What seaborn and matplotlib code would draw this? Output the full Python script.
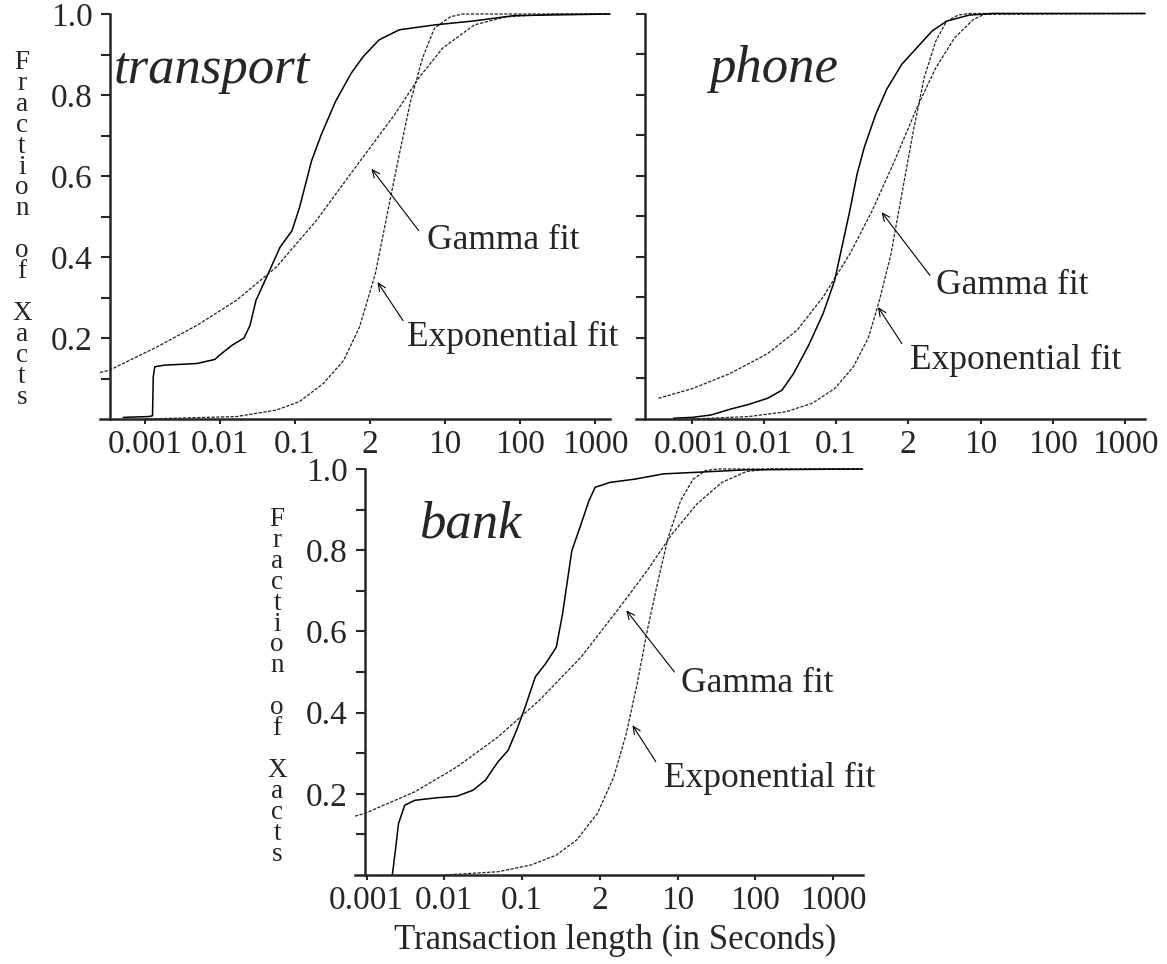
import numpy as np
import pandas as pd
import matplotlib
matplotlib.use("Agg")
import matplotlib.pyplot as plt
from matplotlib.ticker import NullLocator
import seaborn as sns

sns.set_style("ticks")
plt.rcParams['font.family'] = ['Liberation Serif', 'DejaVu Serif']

# ---------------- data (x as log10 of seconds, y as fraction) ----------------
x_tick_values = [0.001, 0.01, 0.1, 1, 10, 100, 1000]
x_tick_labels = ["0.001", "0.01", "0.1", "2", "10", "100", "1000"]
y_tick_values = [0.1, 0.2, 0.3, 0.4, 0.5, 0.6, 0.7, 0.8, 0.9, 1.0]
y_tick_labels = ["", "0.2", "", "0.4", "", "0.6", "", "0.8", "", "1.0"]

panel_names = ["transport", "phone", "bank"]
fit_labels = ["Gamma fit", "Exponential fit"]
x_axis_title = "Transaction length (in Seconds)"
y_axis_title = ["F", "r", "a", "c", "t", "i", "o", "n", "", "o", "f", "", "X", "a", "c", "t", "s"]

# transport
transport_emp_logt = [-3.29, -2.95, -2.90, -2.89, -2.87, -2.74, -2.31, -2.07, -1.99, -1.84, -1.68, -1.60,
                      -1.52, -1.36, -1.20, -1.04, -0.94, -0.78, -0.65, -0.46, -0.25, -0.09, 0.12, 0.39,
                      0.86, 1.39, 1.92, 3.20]
transport_emp_frac = [0.004, 0.006, 0.008, 0.104, 0.129, 0.133, 0.137, 0.147, 0.160, 0.182, 0.200, 0.231,
                      0.293, 0.358, 0.424, 0.465, 0.522, 0.637, 0.702, 0.784, 0.854, 0.895, 0.936, 0.961,
                      0.973, 0.983, 0.996, 1.000]
transport_gam_logt = [-3.60, -3.48, -2.84, -2.31, -1.78, -1.25, -0.72, -0.20, 0.33, 0.65, 0.97, 1.39, 1.81, 2.45, 3.20]
transport_gam_frac = [0.115, 0.120, 0.178, 0.231, 0.293, 0.375, 0.489, 0.620, 0.752, 0.842, 0.916, 0.973, 0.993, 1.000, 1.000]
transport_exp_logt = [-3.00, -1.78, -1.25, -0.94, -0.62, -0.35, -0.14, 0.07, 0.23, 0.39, 0.54, 0.70, 0.86, 1.07, 1.23, 3.20]
transport_exp_frac = [0.000, 0.006, 0.022, 0.043, 0.088, 0.145, 0.227, 0.358, 0.506, 0.653, 0.784, 0.891, 0.965, 0.993, 1.000, 1.000]

# phone
phone_emp_logt = [-3.25, -2.99, -2.73, -2.47, -2.21, -1.95, -1.75, -1.59, -1.38, -1.18, -1.02, -0.92, -0.81,
                  -0.71, -0.61, -0.45, -0.30, -0.09, 0.12, 0.33, 0.53, 0.84, 1.16, 3.28]
phone_emp_frac = [0.002, 0.004, 0.010, 0.024, 0.036, 0.051, 0.071, 0.112, 0.182, 0.260, 0.342, 0.424, 0.514,
                  0.604, 0.670, 0.752, 0.813, 0.875, 0.916, 0.957, 0.981, 0.996, 1.000, 1.000]
phone_gam_logt = [-3.46, -2.99, -2.47, -1.95, -1.54, -1.18, -0.81, -0.50, -0.19, 0.12, 0.38, 0.64, 0.90, 1.05, 3.28]
phone_gam_frac = [0.051, 0.075, 0.112, 0.161, 0.219, 0.301, 0.407, 0.514, 0.637, 0.768, 0.866, 0.940, 0.985, 0.998, 1.000]
phone_exp_logt = [-2.99, -2.21, -1.69, -1.33, -1.02, -0.76, -0.55, -0.40, -0.24, -0.09, 0.07, 0.22, 0.38, 0.53, 0.69, 0.84, 3.28]
phone_exp_frac = [0.000, 0.006, 0.018, 0.039, 0.075, 0.129, 0.202, 0.293, 0.407, 0.555, 0.711, 0.842, 0.932, 0.981, 0.996, 1.000, 1.000]

# bank
bank_emp_logt = [-2.67, -2.63, -2.59, -2.51, -2.38, -2.11, -1.84, -1.63, -1.47, -1.31, -1.18, -1.07, -0.96,
                 -0.83, -0.70, -0.56, -0.48, -0.41, -0.36, -0.24, -0.14, -0.06, 0.13, 0.45, 0.82, 1.36, 1.89, 3.38]
bank_emp_frac = [0.000, 0.061, 0.127, 0.172, 0.184, 0.190, 0.194, 0.209, 0.234, 0.279, 0.307, 0.357, 0.414,
                 0.488, 0.520, 0.561, 0.643, 0.734, 0.799, 0.865, 0.922, 0.955, 0.967, 0.975, 0.988, 0.993, 0.998, 1.000]
bank_gam_logt = [-3.15, -3.02, -2.38, -1.84, -1.31, -0.78, -0.24, 0.29, 0.61, 0.93, 1.25, 1.57, 1.89, 2.21, 3.38]
bank_gam_frac = [0.145, 0.152, 0.205, 0.266, 0.340, 0.430, 0.537, 0.668, 0.750, 0.840, 0.914, 0.967, 0.994, 1.000, 1.000]
bank_exp_logt = [-2.00, -1.31, -0.88, -0.56, -0.30, -0.03, 0.18, 0.34, 0.48, 0.61, 0.74, 0.88, 1.04, 1.20, 1.36, 1.52, 3.38]
bank_exp_frac = [0.000, 0.008, 0.025, 0.049, 0.086, 0.152, 0.242, 0.348, 0.471, 0.602, 0.717, 0.832, 0.922, 0.975, 0.996, 1.000, 1.000]

# annotation anchors: (text left logt, text y), arrow tip (logt, y), arrow tail (logt, y)
gamma_text = {"transport": (0.76, 0.44), "phone": (0.38, 0.33), "bank": (1.04, 0.471)}
gamma_tip = {"transport": (0.02, 0.618), "phone": (-0.37, 0.51), "bank": (0.34, 0.652)}
gamma_tail = {"transport": (0.65, 0.465), "phone": (0.30, 0.354), "bank": (0.96, 0.50)}
expo_text = {"transport": (0.49, 0.202), "phone": (0.02, 0.145), "bank": (0.82, 0.238)}
expo_tip = {"transport": (0.10, 0.338), "phone": (-0.42, 0.276), "bank": (0.42, 0.369)}
expo_tail = {"transport": (0.44, 0.243), "phone": (-0.09, 0.186), "bank": (0.72, 0.279)}
name_pos = {"transport": (-3.42, 0.83), "phone": (-2.76, 0.83), "bank": (-2.32, 0.832)}

# ---------------- layout ----------------
W, H = 1167, 964
fig = plt.figure(figsize=(W / 100, H / 100), dpi=100)


def px_rect(left, right, top, bottom):
    return [left / W, 1 - bottom / H, (right - left) / W, (bottom - top) / H]


layout = {
    "transport": dict(rect=px_rect(100, 610, 14, 419), xlim=(-3.60, 3.20), spine=-3.467, ylabels=True),
    "phone": dict(rect=px_rect(636, 1145, 13.5, 419), xlim=(-3.771, 3.277), spine=-3.647, ylabels=False),
    "bank": dict(rect=px_rect(355, 863, 469, 875), xlim=(-3.150, 3.386), spine=-3.022, ylabels=True),
}

series = {
    "transport": (transport_emp_logt, transport_emp_frac, transport_gam_logt, transport_gam_frac,
                  transport_exp_logt, transport_exp_frac),
    "phone": (phone_emp_logt, phone_emp_frac, phone_gam_logt, phone_gam_frac, phone_exp_logt, phone_exp_frac),
    "bank": (bank_emp_logt, bank_emp_frac, bank_gam_logt, bank_gam_frac, bank_exp_logt, bank_exp_frac),
}

TICK = 24
ANN = 25.5
LETTER = 19.5
dash = (0, (2.6, 1.2))

for name in panel_names:
    cfg = layout[name]
    ax = fig.add_axes(cfg["rect"])
    el, ef, gl, gf, xl, xf = series[name]
    frames = []
    for lab, lx, ly in [("empirical", el, ef), ("gamma", gl, gf), ("exponential", xl, xf)]:
        frames.append(pd.DataFrame({"t": 10 ** np.array(lx), "frac": ly, "curve": lab}))
    df = pd.concat(frames, ignore_index=True)

    sns.lineplot(data=df[df.curve == "gamma"], x="t", y="frac", ax=ax, color="#222222",
                 lw=0.9, linestyle=dash, sort=False, estimator=None, clip_on=False)
    sns.lineplot(data=df[df.curve == "exponential"], x="t", y="frac", ax=ax, color="#222222",
                 lw=0.9, linestyle=dash, sort=False, estimator=None, clip_on=False)
    sns.lineplot(data=df[df.curve == "empirical"], x="t", y="frac", ax=ax, color="black",
                 lw=1.1, sort=False, estimator=None, clip_on=False)

    ax.set_xscale("log")
    ax.set_xlim(10 ** cfg["xlim"][0], 10 ** cfg["xlim"][1])
    ax.set_ylim(0, 1.0)
    ax.set_xticks(x_tick_values)
    ax.set_xticklabels(x_tick_labels)
    ax.xaxis.set_minor_locator(NullLocator())
    ax.set_yticks(y_tick_values)
    ax.set_yticklabels(y_tick_labels if cfg["ylabels"] else [""] * len(y_tick_values))
    ax.yaxis.set_minor_locator(NullLocator())
    ax.set_xlabel("")
    ax.set_ylabel("")
    for s in ["top", "right"]:
        ax.spines[s].set_visible(False)
    ax.spines["left"].set_position(("data", 10 ** cfg["spine"]))
    ax.spines["left"].set_linewidth(1.8)
    ax.spines["bottom"].set_linewidth(1.8)
    ax.tick_params(axis="y", direction="out", length=6.5, width=1.5, pad=6, labelsize=TICK)
    ax.tick_params(axis="x", direction="out", length=3.5, width=1.5, pad=4, labelsize=TICK)
    ax.patch.set_alpha(0)

    nx, ny = name_pos[name]
    ax.text(10 ** nx, ny, name, fontsize=38, fontstyle="italic", ha="left", va="baseline")

    arrow = dict(arrowstyle="->,head_length=0.55,head_width=0.25", lw=0.8, color="black",
                 shrinkA=0, shrinkB=0)
    for lab, tpos, tip, tail in [(fit_labels[0], gamma_text[name], gamma_tip[name], gamma_tail[name]),
                                 (fit_labels[1], expo_text[name], expo_tip[name], expo_tail[name])]:
        ax.annotate("", xy=(10 ** tip[0], tip[1]), xytext=(10 ** tail[0], tail[1]), arrowprops=arrow)
        ax.text(10 ** tpos[0], tpos[1], lab, fontsize=ANN, ha="left", va="center")

# stacked vertical y-axis titles (one multi-line text each)
stacked = "\n".join(y_axis_title)
for cx, top_px in [(22, 50), (277, 507)]:
    fig.text(cx / W, 1 - top_px / H, stacked, fontsize=LETTER, ha="center", va="top",
             multialignment="center", linespacing=0.785)

fig.text(615 / W, 1 - 940 / H, x_axis_title, fontsize=25, ha="center", va="center")

fig.savefig("out.png", dpi=100)
